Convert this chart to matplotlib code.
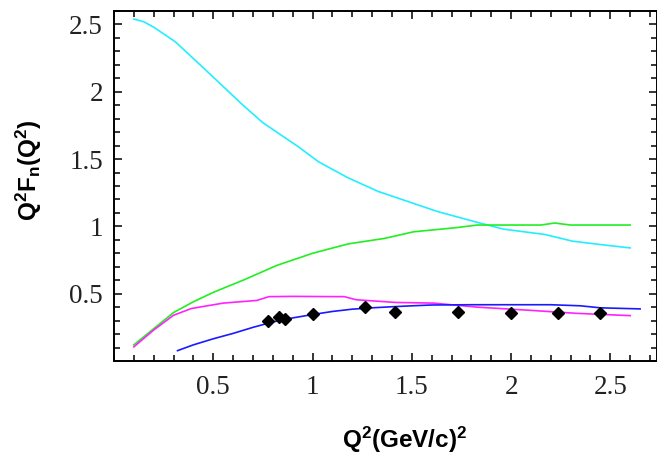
import matplotlib
import numpy as np

matplotlib.use("Agg")
import matplotlib.pyplot as plt
from matplotlib.ticker import MultipleLocator

# curves
cyan_x = [0.1, 0.15, 0.2, 0.26, 0.31, 0.47, 0.65, 0.75, 0.93, 1.03, 1.18, 1.33,
          1.45, 1.63, 1.83, 1.96, 2.17, 2.31, 2.48, 2.6]
cyan_y = [2.54, 2.52, 2.48, 2.42, 2.37, 2.15, 1.90, 1.77, 1.59, 1.48, 1.36, 1.26,
          1.20, 1.11, 1.03, 0.98, 0.94, 0.89, 0.86, 0.84]

green_x = [0.1, 0.2, 0.3, 0.4, 0.5, 0.65, 0.82, 1.0, 1.18, 1.36, 1.51, 1.72,
           1.83, 2.0, 2.15, 2.22, 2.3, 2.45, 2.6]
green_y = [0.12, 0.24, 0.36, 0.44, 0.51, 0.60, 0.71, 0.80, 0.87, 0.91, 0.96, 0.99,
           1.01, 1.01, 1.01, 1.025, 1.01, 1.01, 1.01]

magenta_x = [0.1, 0.2, 0.3, 0.39, 0.55, 0.72, 0.78, 0.9, 1.16, 1.22, 1.42, 1.61,
             1.83, 2.08, 2.33, 2.6]
magenta_y = [0.105, 0.23, 0.34, 0.39, 0.43, 0.45, 0.478, 0.48, 0.478, 0.455,
             0.435, 0.43, 0.40, 0.378, 0.354, 0.337]

blue_x = [0.32, 0.4, 0.5, 0.6, 0.7, 0.8, 0.9, 1.0, 1.1, 1.2, 1.3, 1.4, 1.5, 1.6,
          1.8, 2.0, 2.2, 2.35, 2.45, 2.65]
blue_y = [0.077, 0.12, 0.165, 0.205, 0.25, 0.29, 0.32, 0.345, 0.368, 0.385, 0.395,
          0.403, 0.41, 0.416, 0.418, 0.418, 0.418, 0.41, 0.395, 0.387]

# measured points
data_x = [0.775, 0.83, 0.86, 1.0, 1.265, 1.415, 1.735, 2.0, 2.235, 2.45]
data_y = [0.30, 0.33, 0.315, 0.35, 0.40, 0.367, 0.367, 0.36, 0.36, 0.36]
data_err = [0.03] * len(data_x)

plt.rcParams["mathtext.fontset"] = "custom"
plt.rcParams["mathtext.rm"] = "Liberation Sans:bold"
plt.rcParams["mathtext.bf"] = "Liberation Sans:bold"
plt.rcParams["mathtext.it"] = "Liberation Sans:bold"


def build_plot():
    fig = plt.figure(figsize=(6.57, 4.57), dpi=100)
    ax = fig.add_axes([114 / 657, 96 / 457, 543 / 657, 350 / 457])

    ax.plot(cyan_x, cyan_y, color="#22eeff", linewidth=1.2)
    ax.plot(green_x, green_y, color="#22ee22", linewidth=1.2)
    ax.plot(magenta_x, magenta_y, color="#ff22ff", linewidth=1.2)
    ax.plot(blue_x, blue_y, color="#1a1aff", linewidth=1.2)
    ax.errorbar(data_x, data_y, yerr=data_err, fmt="D", color="black",
                markersize=6, elinewidth=1.2, capsize=0, zorder=5)

    ax.set_xlim(0, 2.735)
    ax.set_ylim(0, 2.6)

    ax.xaxis.set_minor_locator(MultipleLocator(0.1))
    ax.yaxis.set_minor_locator(MultipleLocator(0.1))
    ax.set_xticks([0.5, 1, 1.5, 2, 2.5])
    ax.set_xticklabels(["0.5", "1", "1.5", "2", "2.5"])
    ax.set_yticks([0.5, 1, 1.5, 2, 2.5])
    ax.set_yticklabels(["0.5", "1", "1.5", "2", "2.5"])

    ax.tick_params(which="both", direction="in", top=True, right=True,
                   width=1.1, color="black")
    ax.tick_params(which="major", length=6)
    ax.tick_params(which="minor", length=4)
    ax.tick_params(axis="x", which="major", pad=10)
    ax.tick_params(axis="y", which="major", pad=8)
    for lab in ax.get_xticklabels() + ax.get_yticklabels():
        lab.set_fontfamily("Liberation Serif")
        lab.set_fontsize(19.5)
        lab.set_color("#222222")
    for sp in ax.spines.values():
        sp.set_linewidth(1.4)

    fig.text(405 / 657, 1 - 440 / 457, r"$\mathbf{Q^2(GeV/c)^2}$",
             ha="center", va="center", fontsize=17.5)
    fig.text(29 / 657, 1 - 170 / 457, r"$\mathbf{Q^2F_n(Q^2)}$",
             ha="center", va="center", rotation=90, fontsize=17.5)
    return fig, ax


def main() -> None:
    fig, _ = build_plot()
    fig.savefig("out.png", dpi=100)


if __name__ == "__main__":
    main()
